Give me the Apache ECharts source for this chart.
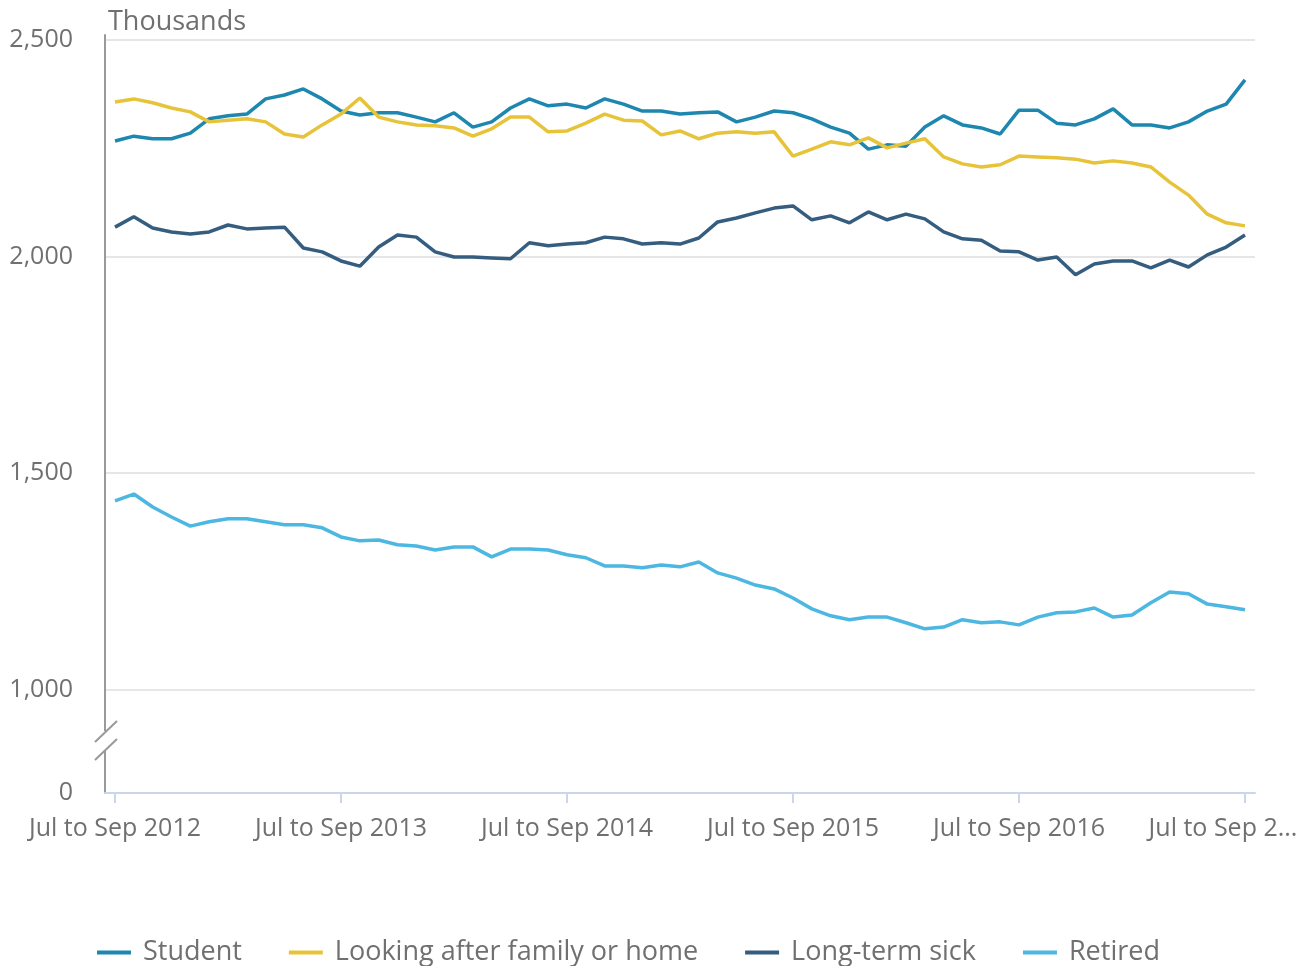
<!DOCTYPE html>
<html>
<head>
<meta charset="utf-8">
<script src="https://cdn.jsdelivr.net/npm/echarts@6/dist/echarts.min.js"></script>
<style>
  html, body { margin: 0; padding: 0; background: #fff; }
  #chart { width: 1309px; height: 966px; }
</style>
</head>
<body>
<div id="chart"></div>
<script>
// rolling quarters, Jul to Sep 2012 ... Jul to Sep 2017
var monthNames = ['Jan', 'Feb', 'Mar', 'Apr', 'May', 'Jun', 'Jul', 'Aug', 'Sep', 'Oct', 'Nov', 'Dec'];
var categories = [];
for (var i = 0; i <= 60; i++) {
    var s = 6 + i;
    categories.push(monthNames[s % 12] + ' to ' + monthNames[(s + 2) % 12] + ' ' + (2012 + Math.floor((s + 2) / 12)));
}

// thousands
var student = [2267, 2278, 2272, 2272, 2285, 2318, 2325, 2329, 2364, 2373,
    2387, 2364, 2336, 2327, 2332, 2332, 2322, 2311, 2332, 2299,
    2311, 2343, 2364, 2348, 2352, 2343, 2364, 2352, 2336, 2336,
    2329, 2332, 2334, 2311, 2322, 2336, 2332, 2318, 2299, 2285,
    2248, 2258, 2255, 2299, 2325, 2304, 2297, 2283, 2338, 2338,
    2308, 2304, 2318, 2341, 2304, 2304, 2297, 2311, 2336, 2352,
    2408];
var family = [2357, 2364, 2355, 2343, 2334, 2311, 2315, 2318, 2311, 2283,
    2276, 2304, 2329, 2366, 2322, 2311, 2304, 2302, 2297, 2278,
    2295, 2322, 2322, 2288, 2290, 2308, 2329, 2315, 2313, 2281,
    2290, 2272, 2285, 2288, 2285, 2288, 2232, 2248, 2265, 2258,
    2274, 2251, 2262, 2272, 2230, 2214, 2207, 2212, 2232, 2230,
    2228, 2225, 2216, 2221, 2216, 2207, 2172, 2142, 2098, 2078,
    2071];
var sick = [2068, 2092, 2066, 2057, 2052, 2057, 2073, 2064, 2066, 2068,
    2020, 2011, 1990, 1978, 2022, 2050, 2045, 2011, 1999, 1999,
    1997, 1995, 2032, 2025, 2029, 2032, 2045, 2041, 2029, 2032,
    2029, 2043, 2080, 2089, 2101, 2112, 2117, 2085, 2094, 2078,
    2103, 2085, 2098, 2087, 2057, 2041, 2038, 2013, 2011, 1992,
    1999, 1958, 1983, 1990, 1990, 1974, 1992, 1976, 2004, 2022,
    2050];
var retired = [1436, 1452, 1422, 1399, 1378, 1388, 1395, 1395, 1388, 1381,
    1381, 1374, 1353, 1344, 1346, 1335, 1332, 1323, 1330, 1330,
    1307, 1325, 1325, 1323, 1312, 1305, 1286, 1286, 1282, 1288,
    1284, 1295, 1270, 1258, 1242, 1233, 1212, 1187, 1171, 1162,
    1168, 1168, 1155, 1141, 1145, 1162, 1155, 1157, 1150, 1168,
    1178, 1180, 1189, 1168, 1173, 1201, 1226, 1222, 1198, 1192,
    1185];

var xTicks = [0, 12, 24, 36, 48, 60];
var yTicks = [1000, 1500, 2000, 2500];
var yBottom = 762;   // axis is broken, bottom shows as 0

var textColor = '#707070';
var font = 'Open Sans';

function toPoints(arr) {
    return arr.map(function (v, i) { return [i, v]; });
}

function lineSeries(name, data, color) {
    return {
        name: name,
        type: 'line',
        data: toPoints(data),
        showSymbol: false,
        symbol: 'none',
        lineStyle: { width: 3.5, color: color },
        itemStyle: { color: color },
        emphasis: { disabled: true }
    };
}

var chart = echarts.init(document.getElementById('chart'));

var option = {
    animation: false,
    textStyle: { fontFamily: font },
    title: {
        text: 'Thousands',
        left: 103,
        top: 4,
        textStyle: { color: textColor, fontSize: 27, fontWeight: 'normal', fontFamily: font }
    },
    grid: { left: 105, right: 54, top: 35, bottom: 173 },
    legend: {
        left: 92,
        top: 934,
        icon: 'rect',
        itemWidth: 34,
        itemHeight: 4,
        itemGap: 47,
        textStyle: { color: textColor, fontSize: 27, fontFamily: font, padding: [0, 0, 0, 7] },
        data: ['Student', 'Looking after family or home', 'Long-term sick', 'Retired']
    },
    xAxis: {
        type: 'value',
        min: -0.531,
        max: 60.531,
        axisLine: { lineStyle: { color: '#ccd6eb', width: 2 } },
        axisTick: { customValues: xTicks, length: 10, lineStyle: { color: '#ccd6eb', width: 2 } },
        axisLabel: {
            customValues: xTicks,
            margin: 23,
            color: textColor,
            fontSize: 25,
            fontFamily: font,
            formatter: function (v) {
                if (v === 60) return '{last|Jul to Sep 2...}';
                return categories[v];
            },
            rich: {
                last: { color: textColor, fontSize: 25, fontFamily: font, padding: [0, 44, 0, 0] }
            }
        },
        splitLine: { show: false }
    },
    yAxis: {
        type: 'value',
        min: yBottom,
        max: 2511.5,
        axisLine: { show: true, onZero: false, lineStyle: { color: '#999999', width: 2 } },
        axisTick: { show: false, customValues: yTicks },
        axisLabel: {
            customValues: [yBottom].concat(yTicks),
            margin: 32,
            color: textColor,
            fontSize: 25,
            fontFamily: font,
            formatter: function (v) {
                if (v < 1000) return '0';
                return echarts.format.addCommas(v);
            }
        },
        splitLine: { show: true, lineStyle: { color: '#e6e6e6', width: 2 } }
    },
    graphic: [
        // axis break marks
        { type: 'rect', shape: { x: 101, y: 731, width: 8, height: 19 }, style: { fill: '#fff' }, z: 100 },
        { type: 'line', shape: { x1: 95, y1: 742, x2: 117, y2: 721 }, style: { stroke: '#999999', lineWidth: 2 }, z: 101 },
        { type: 'line', shape: { x1: 95, y1: 760, x2: 117, y2: 739 }, style: { stroke: '#999999', lineWidth: 2 }, z: 101 }
    ],
    series: [
        lineSeries('Student', student, '#1d87b0'),
        lineSeries('Looking after family or home', family, '#e7c33a'),
        lineSeries('Long-term sick', sick, '#355d7f'),
        lineSeries('Retired', retired, '#4cb7e0')
    ]
};

chart.setOption(option);
</script>
</body>
</html>
